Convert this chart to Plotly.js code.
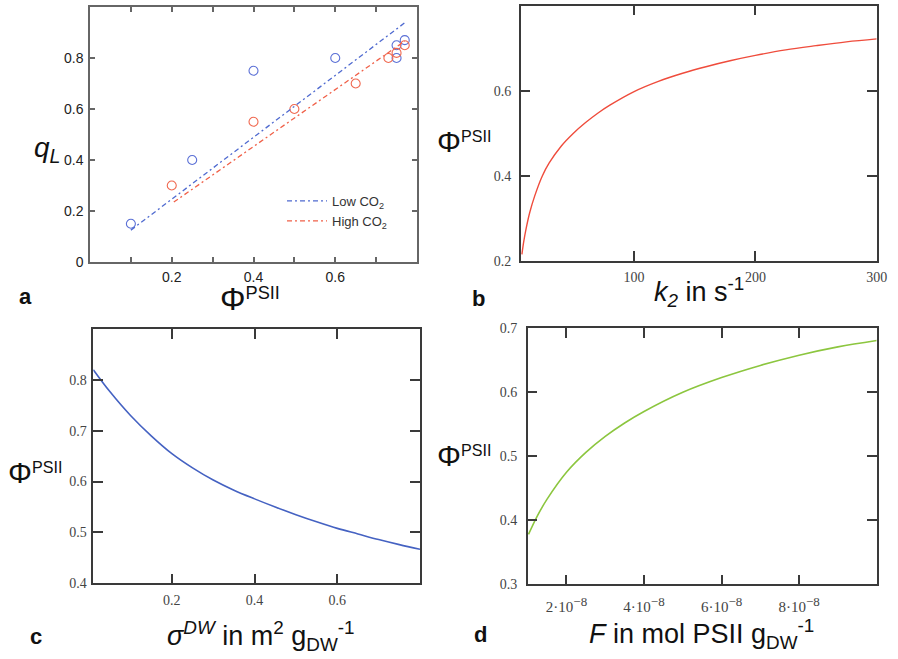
<!DOCTYPE html>
<html>
<head>
<meta charset="utf-8">
<script src="https://cdn.plot.ly/plotly-3.0.1.min.js"></script>
<style>html,body{margin:0;padding:0;background:#fff;}#plot{width:898px;height:659px;}</style>
</head>
<body>
<div id="plot"></div>
<script>
// ---- Panel a data ----
const phiLow  = [0.10, 0.25, 0.40, 0.60, 0.75, 0.75, 0.77];
const qLow    = [0.15, 0.40, 0.75, 0.80, 0.85, 0.80, 0.87];
const phiHigh = [0.20, 0.40, 0.50, 0.65, 0.73, 0.75, 0.77];
const qHigh   = [0.30, 0.55, 0.60, 0.70, 0.80, 0.82, 0.85];
const fitLowPhi  = [0.10, 0.77];
const fitLowQ    = [0.125, 0.938];
const fitHighPhi = [0.205, 0.77];
const fitHighQ   = [0.235, 0.866];

// ---- Panel b data ----
const k2    = [7.5, 9, 11, 14, 18, 24.4, 30, 40, 50, 60, 70, 80, 100, 120, 140, 160, 180, 200, 225, 250, 275, 300];
const phiK2 = [0.215, 0.245, 0.276, 0.314, 0.352, 0.400, 0.430, 0.470, 0.500, 0.525, 0.547, 0.566, 0.598, 0.622, 0.641, 0.657, 0.671, 0.683, 0.696, 0.706, 0.715, 0.722];

// ---- Panel c data ----
const sigmaDW  = [0.01, 0.05, 0.10, 0.15, 0.20, 0.25, 0.30, 0.35, 0.40, 0.45, 0.50, 0.55, 0.60, 0.65, 0.70, 0.75, 0.80];
const phiSigma = [0.820, 0.777, 0.730, 0.690, 0.655, 0.627, 0.603, 0.583, 0.566, 0.550, 0.535, 0.521, 0.508, 0.497, 0.486, 0.476, 0.467];

// ---- Panel d data ----
const Fpsii = [1.02e-8, 1.25e-8, 1.5e-8, 2.0e-8, 2.5e-8, 3.0e-8, 3.5e-8, 4.0e-8, 5.0e-8, 6.0e-8, 7.0e-8, 8.0e-8, 9.0e-8, 1.0e-7];
const phiF  = [0.378, 0.407, 0.433, 0.475, 0.506, 0.531, 0.552, 0.570, 0.600, 0.623, 0.642, 0.658, 0.671, 0.681];

// tick labels
const aXTicks = [0.2, 0.4, 0.6];
const aXMinor = [0.1, 0.3, 0.5, 0.7];
const aYTicks = [0, 0.2, 0.4, 0.6, 0.8];
const aYText  = ['0', '0.2', '0.4', '0.6', '0.8'];
const bXTicks = [100, 200, 300];
const bYTicks = [0.2, 0.4, 0.6];
const cXTicks = [0.2, 0.4, 0.6];
const cYTicks = [0.4, 0.5, 0.6, 0.7, 0.8];
const dXTicks = [2e-8, 4e-8, 6e-8, 8e-8];
const dXText  = ['2·10<sup><span style="font-size:13px">−8</span></sup>', '4·10<sup><span style="font-size:13px">−8</span></sup>',
                 '6·10<sup><span style="font-size:13px">−8</span></sup>', '8·10<sup><span style="font-size:13px">−8</span></sup>'];
const dYTicks = [0.3, 0.4, 0.5, 0.6, 0.7];

const W = 898, H = 659;
const px = x => x / W;
const py = y => 1 - y / H;

const sans = 'Liberation Sans, Arial, sans-serif';
const serif = 'Liberation Serif, Times New Roman, serif';

const blueC = '#5b70d6', redC = '#f0684f';

const traces = [
  {x: phiLow, y: qLow, type: 'scatter', mode: 'markers', xaxis: 'x', yaxis: 'y', showlegend: false,
   marker: {symbol: 'circle-open', size: 9, color: blueC, line: {width: 1.1}}},
  {x: phiHigh, y: qHigh, type: 'scatter', mode: 'markers', xaxis: 'x', yaxis: 'y', showlegend: false,
   marker: {symbol: 'circle-open', size: 9, color: redC, line: {width: 1.1}}},
  {x: fitLowPhi, y: fitLowQ, type: 'scatter', mode: 'lines', xaxis: 'x', yaxis: 'y', name: 'Low CO<sub>2</sub>',
   line: {color: '#4f6ad0', width: 1.3, dash: '5px,3px,2px,3px'}},
  {x: fitHighPhi, y: fitHighQ, type: 'scatter', mode: 'lines', xaxis: 'x', yaxis: 'y', name: 'High CO<sub>2</sub>',
   line: {color: '#f06048', width: 1.3, dash: '5px,3px,2px,3px'}},
  {x: k2, y: phiK2, type: 'scatter', mode: 'lines', xaxis: 'x2', yaxis: 'y2', showlegend: false,
   line: {color: '#ef4c3c', width: 1.4, shape: 'spline', smoothing: 1}},
  {x: sigmaDW, y: phiSigma, type: 'scatter', mode: 'lines', xaxis: 'x3', yaxis: 'y3', showlegend: false,
   line: {color: '#4562c2', width: 1.6, shape: 'spline', smoothing: 1}},
  {x: Fpsii, y: phiF, type: 'scatter', mode: 'lines', xaxis: 'x4', yaxis: 'y4', showlegend: false,
   line: {color: '#8cc63f', width: 1.6, shape: 'spline', smoothing: 1}}
];

function ax(extra) {
  return Object.assign({
    showgrid: false, zeroline: false, showline: true, mirror: 'ticks',
    linecolor: '#3a3a3a', linewidth: 1.5, ticks: 'inside', tickcolor: '#3a3a3a',
    tickwidth: 1.5, ticklen: 10,
    tickfont: {family: serif, size: 14, color: '#444'}
  }, extra);
}

const aFont = {family: sans, size: 14, color: '#222'};

const layout = {
  width: W, height: H,
  margin: {l: 0, r: 0, t: 0, b: 0},
  paper_bgcolor: '#fff', plot_bgcolor: '#fff',
  showlegend: true,
  legend: {x: px(282), y: py(186), xanchor: 'left', yanchor: 'top', bgcolor: 'rgba(0,0,0,0)',
           font: {family: sans, size: 13, color: '#333'}, tracegroupgap: 0, itemwidth: 40},
  xaxis: ax({domain: [px(90), px(417)], range: [0, 0.8], tickvals: aXTicks, ticklen: 5, tickfont: aFont,
             linecolor: '#666', tickcolor: '#666', anchor: 'y', ticklabelstandoff: 1,
             minor: {tickvals: aXMinor, ticks: 'inside', ticklen: 5, tickcolor: '#666', tickwidth: 1.5}}),
  yaxis: ax({domain: [py(262), py(7)], range: [0, 1.0], tickvals: aYTicks, ticktext: aYText, ticklen: 5, tickfont: aFont,
             linecolor: '#666', tickcolor: '#666', anchor: 'x', ticklabelstandoff: 2}),
  xaxis2: ax({domain: [px(520.7), px(876.7)], range: [6.5, 300], tickvals: bXTicks, anchor: 'y2', ticklabelstandoff: 3}),
  yaxis2: ax({domain: [py(260.7), py(5.7)], range: [0.2, 0.8], tickvals: bYTicks, anchor: 'x2', ticklabelstandoff: 5}),
  xaxis3: ax({domain: [px(93.3), px(420)], range: [0.01, 0.8], tickvals: cXTicks, anchor: 'y3', ticklabelstandoff: 3}),
  yaxis3: ax({domain: [py(583.3), py(329)], range: [0.4, 0.9], tickvals: cYTicks, anchor: 'x3', ticklabelstandoff: 2}),
  xaxis4: ax({domain: [px(527.7), px(876.7)], range: [1e-8, 1e-7], tickvals: dXTicks, ticktext: dXText, anchor: 'y4',
              ticklabelstandoff: 8, tickfont: {family: serif, size: 15, color: '#444'}}),
  yaxis4: ax({domain: [py(584.3), py(328.3)], range: [0.3, 0.7], tickvals: dYTicks, anchor: 'x4', ticklabelstandoff: 6}),
  annotations: []
};

function phiTitle(big) {
  return '<span style="font-size:' + big + 'px">Φ</span><sup>PSII</sup>';
}
function ann(x, y, text, size, extra) {
  return Object.assign({xref: 'paper', yref: 'paper', x: px(x), y: py(y), xanchor: 'center', yanchor: 'middle',
    showarrow: false, text: text, font: {family: sans, size: size, color: '#111'}}, extra || {});
}
layout.annotations.push(
  ann(47, 150, '<i>q<sub>L</sub></i>', 28),
  ann(250, 299, phiTitle(32), 26),
  ann(25, 297, '<b>a</b>', 22),
  ann(464, 141, phiTitle(30), 23),
  ann(699, 292, '<i>k<sub>2</sub></i> in s<sup>-1</sup>', 27),
  ann(478, 299, '<b>b</b>', 22),
  ann(35, 472, phiTitle(30), 23),
  ann(261, 636, '<i>σ<sup>DW</sup></i> in m<sup>2</sup> g<sub>DW</sub><sup>-1</sup>', 27),
  ann(36, 636, '<b>c</b>', 22),
  ann(464, 455, phiTitle(30), 23),
  ann(701, 634, '<i>F</i> in mol PSII g<sub>DW</sub><sup>-1</sup>', 27),
  ann(480, 634, '<b>d</b>', 22)
);

Plotly.newPlot('plot', traces, layout, {displayModeBar: false});
</script>
</body>
</html>
